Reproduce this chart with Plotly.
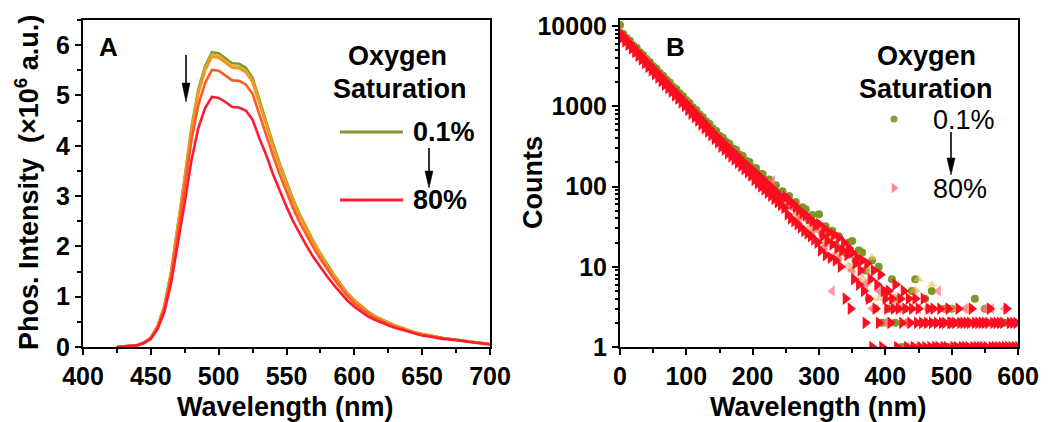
import plotly.graph_objects as go

W, H = 1054, 422
FONT = "Liberation Sans, Arial, sans-serif"

# ---------------- Panel A: phosphorescence spectra ----------------
WAVELENGTH = list(range(425, 701, 5))
SPEC_01 = [0.00, 0.01, 0.02, 0.04, 0.09, 0.19, 0.42, 0.82, 1.50, 2.42, 3.38, 4.38, 5.12, 5.58,
           5.86, 5.84, 5.74, 5.64, 5.63, 5.55, 5.35, 4.90, 4.50, 4.05, 3.65, 3.28, 2.93, 2.62,
           2.35, 2.10, 1.86, 1.64, 1.44, 1.25, 1.07, 0.93, 0.81, 0.71, 0.62, 0.55, 0.49, 0.43,
           0.38, 0.33, 0.29, 0.26, 0.23, 0.20, 0.18, 0.16, 0.15, 0.13, 0.11, 0.09, 0.08, 0.06]
SPEC_2 = [0.00, 0.01, 0.02, 0.04, 0.09, 0.19, 0.42, 0.81, 1.49, 2.40, 3.35, 4.34, 5.07, 5.53,
          5.81, 5.79, 5.69, 5.58, 5.57, 5.49, 5.29, 4.85, 4.46, 4.01, 3.61, 3.25, 2.90, 2.59,
          2.33, 2.08, 1.84, 1.62, 1.43, 1.24, 1.06, 0.92, 0.80, 0.70, 0.62, 0.54, 0.48, 0.43,
          0.38, 0.33, 0.29, 0.26, 0.23, 0.20, 0.18, 0.16, 0.15, 0.13, 0.11, 0.09, 0.08, 0.06]
SPEC_3 = [0.00, 0.01, 0.02, 0.04, 0.09, 0.19, 0.41, 0.81, 1.48, 2.38, 3.33, 4.31, 5.04, 5.50,
          5.77, 5.75, 5.65, 5.55, 5.54, 5.46, 5.26, 4.82, 4.43, 3.99, 3.59, 3.23, 2.88, 2.58,
          2.31, 2.07, 1.83, 1.61, 1.42, 1.23, 1.05, 0.92, 0.80, 0.70, 0.61, 0.54, 0.48, 0.42,
          0.37, 0.33, 0.29, 0.26, 0.23, 0.20, 0.18, 0.16, 0.14, 0.13, 0.11, 0.09, 0.08, 0.06]
SPEC_4 = [0.00, 0.01, 0.02, 0.04, 0.08, 0.18, 0.39, 0.77, 1.41, 2.27, 3.18, 4.12, 4.81, 5.25,
          5.51, 5.49, 5.40, 5.30, 5.29, 5.22, 5.03, 4.61, 4.23, 3.81, 3.43, 3.08, 2.75, 2.46,
          2.21, 1.97, 1.75, 1.54, 1.35, 1.18, 1.01, 0.87, 0.76, 0.67, 0.58, 0.52, 0.46, 0.40,
          0.36, 0.31, 0.27, 0.24, 0.22, 0.19, 0.17, 0.15, 0.14, 0.12, 0.10, 0.085, 0.075, 0.055]
SPEC_80 = [0.00, 0.01, 0.02, 0.03, 0.08, 0.16, 0.36, 0.70, 1.28, 2.06, 2.87, 3.72, 4.35, 4.75,
           4.97, 4.95, 4.87, 4.77, 4.76, 4.70, 4.52, 4.15, 3.82, 3.44, 3.10, 2.79, 2.49, 2.23,
           2.00, 1.78, 1.58, 1.40, 1.23, 1.07, 0.92, 0.80, 0.70, 0.61, 0.54, 0.48, 0.43, 0.38,
           0.34, 0.30, 0.26, 0.23, 0.21, 0.18, 0.16, 0.15, 0.14, 0.12, 0.10, 0.08, 0.07, 0.05]
SPEC_COLORS = ["#7b9a2b", "#dcb437", "#f5961e", "#ff5a22", "#ff1a33"]

# ---------------- Panel B: decay counts ----------------
DECAY_01 = [10300, 7950, 7100, 6550, 5760, 5360, 4720, 4360, 3880, 3570,
            3150, 2940, 2600, 2400, 2140, 1975, 1750, 1630, 1440, 1330,
            1185, 1095, 965, 898, 790, 730, 648, 600, 527, 492,
            430, 406, 360, 341, 298, 288, 250, 240, 209, 202,
            172, 170, 144, 143, 121, 122, 99, 104, 83, 87,
            70, 76, 57, 64, 47, 55, 52, 38, 44, 31,
            45, 26, 32, 22, 28, 19, 24, 16, 15, 20,
            21, 12, 16, 15, 9, 4, 12, 3, 10, 2,
            5, 3, 7, 2, 4, 1, 3, 2, 5, 7,
            1, 2, 4, 3, 5, 2, 1, 2, 3, 1,
            3, 2, 1, 2, 1, 2, 1, 4, 2, 1,
            3, 3, 2, 1, 2, 1, 2, 2, 1, 2,
            1]
DECAY_2 = [8600, 6800, 5680, 4500, 3750, 2970, 2490, 1980, 1660, 1320,
           1108, 876, 733, 578, 485, 381, 328, 262, 228, 181,
           158, 125, 111, 86, 79, 59, 57, 41, 42, 28,
           30, 19, 23, 13, 17, 9, 13, 6, 13, 4,
           5, 3, 6, 2, 3, 7, 1, 6, 2, 1,
           3, 2, 1, 2, 1, 2, 1, 2, 1, 2,
           1]
DECAY_3 = [7400, 6170, 4900, 4080, 3240, 2700, 2150, 1800, 1430, 1200,
           955, 795, 630, 526, 416, 352, 283, 245, 196, 170,
           134, 119, 93, 85, 63, 61, 44, 43, 30, 32,
           20, 24, 14, 17, 10, 13, 7, 9, 3, 5,
           2, 4, 3, 1, 5, 2, 3, 1, 2, 3,
           1, 2, 3, 1, 2, 3, 1, 2, 1, 2]
DECAY_4 = [8150, 6490, 5400, 4280, 3570, 2830, 2370, 1885, 1580, 1255,
           1055, 834, 697, 549, 462, 362, 312, 250, 217, 172,
           150, 118, 106, 118, 75, 57, 54, 39, 40, 27,
           28, 18, 5, 13, 15, 9, 12, 6, 3, 5,
           2, 4, 3, 2, 1, 3, 2, 1, 5, 3,
           2, 1, 3, 2, 1, 3, 3, 2, 3, 1,
           2]
DECAY_80 = [8250, 7150, 7450, 6450, 6700, 5850, 6050, 5250, 5450, 4750,
            4900, 4250, 4450, 3850, 4000, 3450, 3600, 3100, 3250, 2800,
            2950, 2520, 2680, 2280, 2420, 2060, 2180, 1860, 1980, 1680,
            1780, 1520, 1610, 1370, 1450, 1240, 1320, 1120, 1190, 1010,
            1090, 900, 980, 810, 885, 730, 800, 660, 720, 595,
            650, 535, 585, 483, 528, 435, 476, 392, 429, 354,
            393, 314, 359, 287, 327, 261, 299, 238, 273, 217,
            249, 198, 227, 181, 207, 165, 189, 151, 172, 137,
            160, 121, 147, 110, 134, 100, 123, 92, 112, 84,
            103, 77, 94, 70, 86, 64, 78, 59, 72, 54,
            74, 45, 66, 40, 62, 37, 56, 34, 51, 31,
            47, 28, 44, 26, 40, 24, 37, 22, 33, 20,
            34, 16, 24, 30, 14, 21, 27, 13, 19, 25,
            12, 17, 23, 10, 16, 20, 4, 14, 17, 3,
            15, 7, 11, 13, 6, 9, 12, 5, 2, 11,
            4, 7, 1, 9, 3, 6, 2, 8, 1, 5,
            4, 3, 5, 2, 4, 3, 6, 1, 3, 4,
            2, 5, 3, 1, 4, 2, 3, 1, 4, 2,
            3, 1, 2, 4, 1, 2, 3, 1, 2, 3,
            1, 2, 1, 3, 2, 1, 2, 1, 3, 2,
            2, 1, 2, 1, 3, 2, 1, 2, 1, 2,
            1, 2, 3, 1, 2, 1, 2, 1, 2, 1,
            2, 1, 2, 3, 1, 2, 1, 2, 1, 2,
            1, 2, 1, 3, 1, 2, 1, 2, 1, 2,
            1]
T5 = [5 * i for i in range(len(DECAY_01))]
T2_5 = [2.5 * i for i in range(len(DECAY_80))]
T10 = [10 * i for i in range(len(DECAY_2))]
T10_OFF = [5 + 10 * i for i in range(len(DECAY_3))]

X_TICKS_A = [400, 450, 500, 550, 600, 650, 700]
Y_TICKS_B = [1, 10, 100, 1000, 10000]
Y_TICKTEXT_B = ["1", "10", "100", "1000", "10000"]

fig = go.Figure()

for vals, col in zip([SPEC_01, SPEC_2, SPEC_3, SPEC_4, SPEC_80], SPEC_COLORS):
    fig.add_trace(go.Scatter(x=WAVELENGTH, y=vals, mode="lines",
                             line=dict(color=col, width=2.6), xaxis="x", yaxis="y",
                             showlegend=False, hoverinfo="skip"))

fig.add_trace(go.Scatter(x=T5, y=DECAY_01, mode="markers", xaxis="x2", yaxis="y2",
                         marker=dict(symbol="circle", size=8, color="rgb(122,152,40)", line=dict(width=0)),
                         showlegend=False, hoverinfo="skip"))
fig.add_trace(go.Scatter(x=T10, y=DECAY_2, mode="markers", xaxis="x2", yaxis="y2",
                         marker=dict(symbol="triangle-up", size=9, color="rgba(235,195,80,0.6)", line=dict(width=0)),
                         showlegend=False, hoverinfo="skip"))
fig.add_trace(go.Scatter(x=T10_OFF, y=DECAY_3, mode="markers", xaxis="x2", yaxis="y2",
                         marker=dict(symbol="diamond", size=8, color="rgba(245,160,90,0.6)", line=dict(width=0)),
                         showlegend=False, hoverinfo="skip"))
fig.add_trace(go.Scatter(x=T10, y=DECAY_4, mode="markers", xaxis="x2", yaxis="y2",
                         marker=dict(symbol="triangle-left", size=10, color="rgba(255,110,130,0.7)", line=dict(width=0)),
                         showlegend=False, hoverinfo="skip"))
fig.add_trace(go.Scatter(x=T2_5, y=DECAY_80, mode="markers", xaxis="x2", yaxis="y2",
                         marker=dict(symbol="triangle-right", size=11, color="rgb(255,12,32)", line=dict(width=0)),
                         showlegend=False, hoverinfo="skip"))


# legend glyphs on a pixel overlay axis
def overlay_line(xs, ys, col, w):
    fig.add_trace(go.Scatter(x=xs, y=ys, mode="lines", line=dict(color=col, width=w),
                             xaxis="x3", yaxis="y3", showlegend=False, hoverinfo="skip"))


def overlay_arrow(x, y0, y1, head=17, half=4):
    overlay_line([x, x], [y0, y1 - head + 2], "black", 1.6)
    fig.add_trace(go.Scatter(x=[x - half, x + half, x, x - half], y=[y1 - head, y1 - head, y1, y1 - head],
                             mode="lines", fill="toself", fillcolor="black", line=dict(color="black", width=0.5),
                             xaxis="x3", yaxis="y3", showlegend=False, hoverinfo="skip"))


overlay_line([340, 403], [132, 132], SPEC_COLORS[0], 3)
overlay_line([340, 403], [200, 200], SPEC_COLORS[4], 3)
overlay_arrow(429, 148, 188)
overlay_arrow(186, 55, 102, head=19)
overlay_arrow(951, 132, 175)
fig.add_trace(go.Scatter(x=[894], y=[119], mode="markers",
                         marker=dict(symbol="circle", size=7, color="rgba(118,150,38,0.9)"),
                         xaxis="x3", yaxis="y3", showlegend=False, hoverinfo="skip"))
fig.add_trace(go.Scatter(x=[894], y=[188], mode="markers",
                         marker=dict(symbol="triangle-right", size=9, color="rgba(255,15,35,0.5)"),
                         xaxis="x3", yaxis="y3", showlegend=False, hoverinfo="skip"))

TF = dict(family=FONT, size=25, color="black", weight="bold")
common = dict(showline=True, linewidth=2, linecolor="black", mirror=True, showgrid=False,
              zeroline=False, ticks="outside", ticklen=6, tickwidth=2, tickcolor="black", tickfont=TF,
              automargin=False)

y_dom = [1 - 347 / H, 1 - 20 / H]
fig.update_layout(
    width=W, height=H, margin=dict(l=0, r=0, t=0, b=0, autoexpand=False),
    paper_bgcolor="white", plot_bgcolor="rgba(0,0,0,0)",
    xaxis=dict(domain=[83 / W, 490 / W], range=[400, 700], tickmode="array", tickvals=X_TICKS_A,
               anchor="y", minor=dict(ticks="outside", ticklen=4, tickwidth=1.5, dtick=25, tick0=400,
                                      tickcolor="black", showgrid=False), **common),
    yaxis=dict(domain=y_dom, range=[0, 6.5], tickmode="linear", tick0=0, dtick=1, anchor="x",
               minor=dict(ticks="outside", ticklen=4, tickwidth=1.5, dtick=0.5, tick0=0,
                          tickcolor="black", showgrid=False), **common),
    xaxis2=dict(domain=[620 / W, 1018 / W], range=[0, 600], tickmode="linear", tick0=0, dtick=100,
                anchor="y2", minor=dict(ticks="outside", ticklen=4, tickwidth=1.5, dtick=50, tick0=0,
                                        tickcolor="black", showgrid=False), **common),
    yaxis2=dict(domain=y_dom, type="log", range=[0, 4.075], tickmode="array", tickvals=Y_TICKS_B,
                ticktext=Y_TICKTEXT_B, anchor="x2",
                minor=dict(ticks="outside", ticklen=3, tickwidth=1.5, dtick="D1",
                           tickcolor="black", showgrid=False), **common),
    xaxis3=dict(domain=[0, 1], range=[0, W], visible=False, anchor="y3", fixedrange=True, automargin=False),
    yaxis3=dict(domain=[0, 1], range=[H, 0], visible=False, anchor="x3", fixedrange=True, automargin=False),
)


def txt(x, y, s, size=27, bold=True, xanchor="center", angle=0):
    return dict(xref="paper", yref="paper", x=x / W, y=1 - y / H, text=s, showarrow=False,
                textangle=angle, xanchor=xanchor, yanchor="middle",
                font=dict(family=FONT, size=size, color="black", weight="bold" if bold else "normal"))


ann = [
    txt(108, 47, "A", size=26),
    txt(397, 56, "Oxygen"),
    txt(400, 89, "Saturation"),
    txt(411, 132, "0.1%", xanchor="left"),
    txt(411, 200, "80%", xanchor="left"),
    txt(675, 47, "B", size=26),
    txt(926, 56, "Oxygen"),
    txt(926, 89, "Saturation"),
    txt(931, 120, "0.1%", bold=False, xanchor="left"),
    txt(931, 189, "80%", bold=False, xanchor="left"),
    txt(285, 407, "Wavelength (nm)", size=27),
    txt(818, 407, "Wavelength (nm)", size=27),
    txt(27, 183, "Phos. Intensity\u00a0 (×10<sup>6</sup> a.u.)", size=27, angle=-90),
    txt(533, 183, "Counts", size=27, angle=-90),
]
fig.update_layout(annotations=ann)

fig.write_html("out.html", config={"displayModeBar": False},
               post_script="document.body.style.margin='0';document.body.style.overflow='hidden';")
